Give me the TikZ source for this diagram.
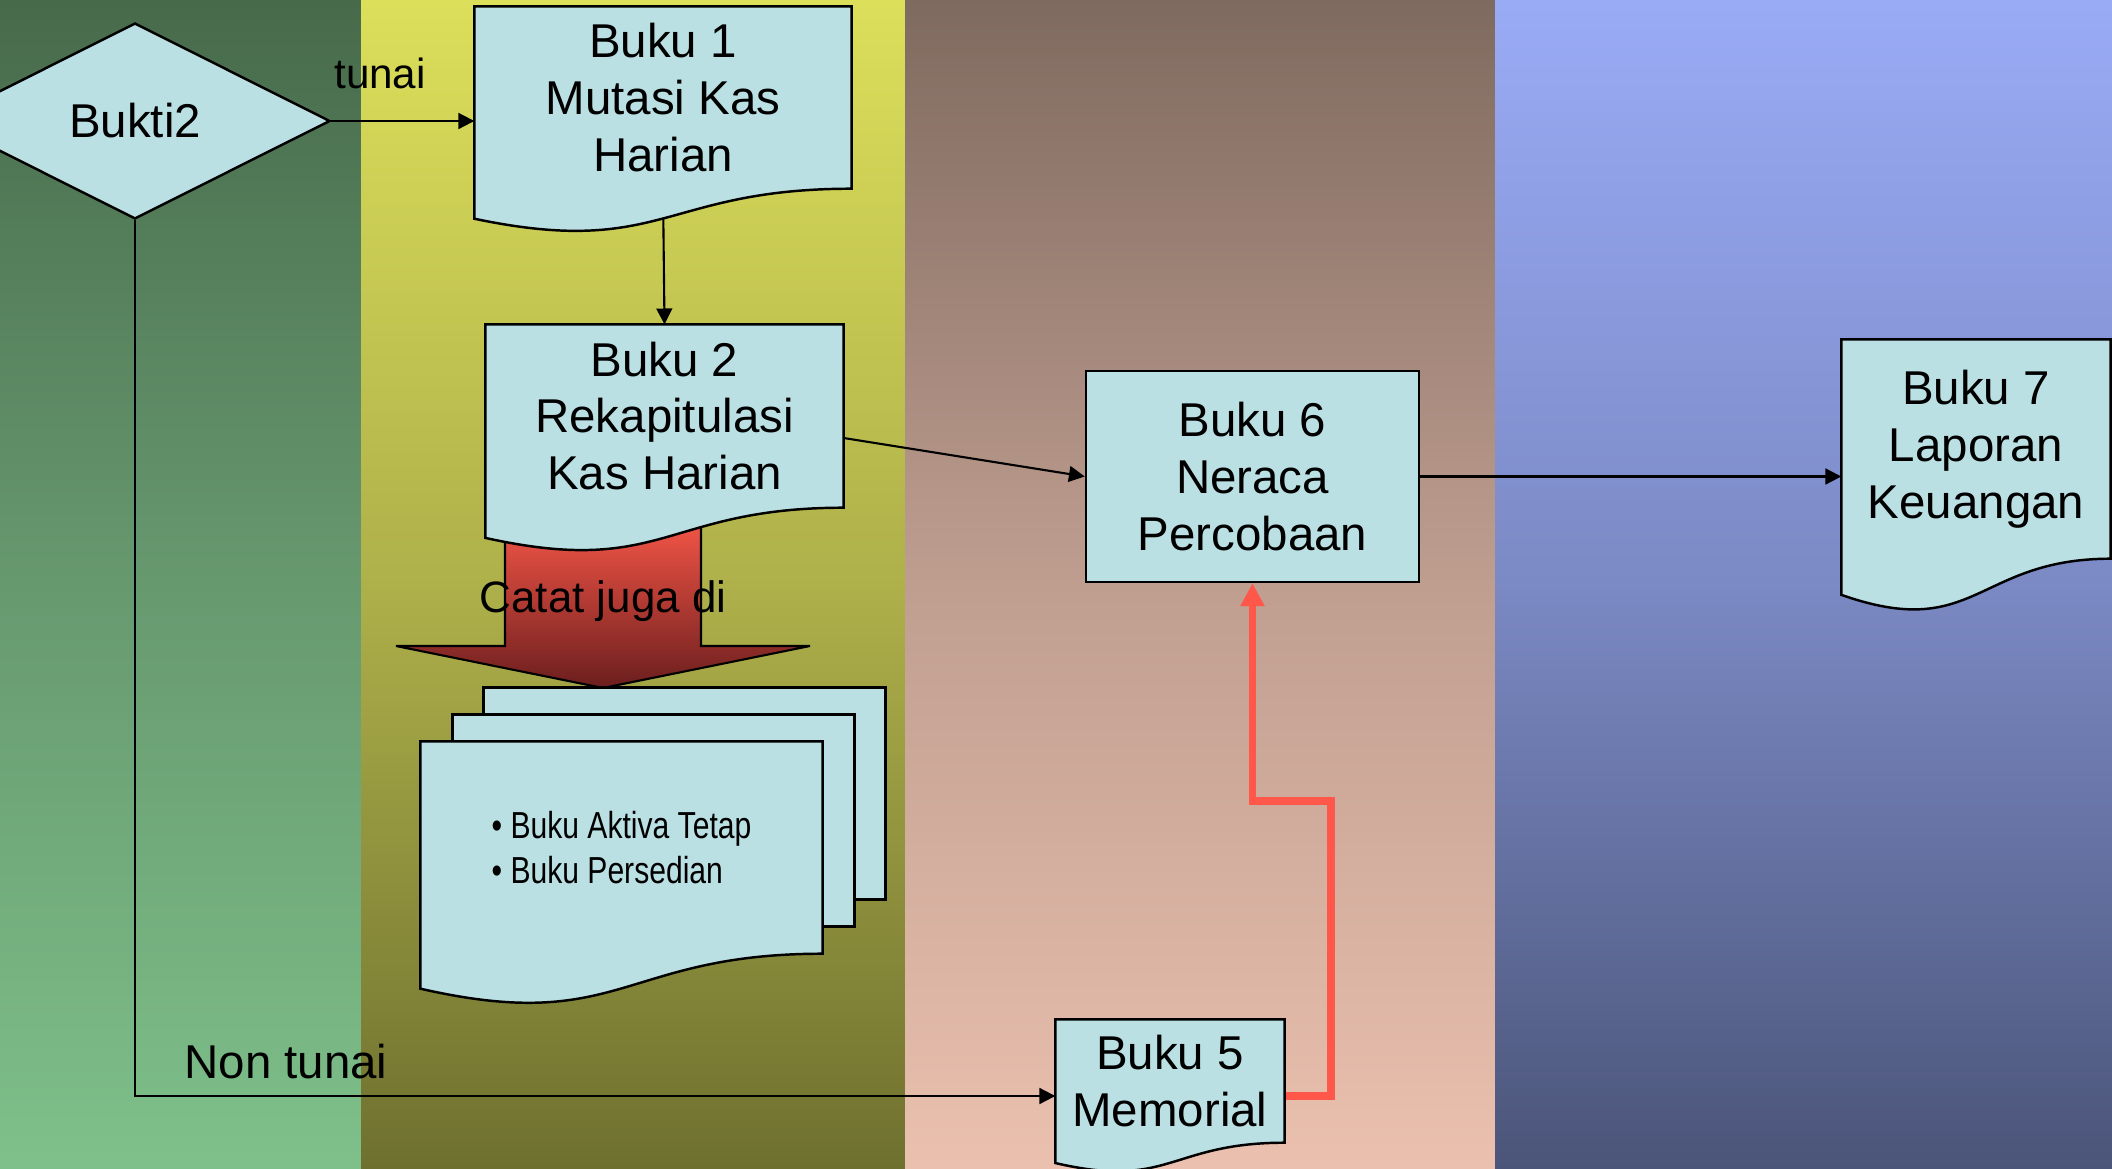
\documentclass[tikz,border=0pt]{standalone}
\usepackage{fontspec}
\setmainfont{Liberation Sans}
\newfontfamily\sempit[FakeStretch=0.8]{Liberation Sans}
\usetikzlibrary{shapes.geometric,arrows.meta,calc}

\pgfdeclarelayer{latar}
\pgfdeclarelayer{garis}
\pgfdeclarelayer{bentuk}
\pgfsetlayers{latar,garis,bentuk,main}

\definecolor{isi}{HTML}{BBE0E3}
\definecolor{hijauA}{HTML}{476A4B}
\definecolor{hijauB}{HTML}{67996F}
\definecolor{hijauC}{HTML}{7EC08A}
\definecolor{kuningA}{HTML}{DCDF5A}
\definecolor{kuningB}{HTML}{AEB04A}
\definecolor{kuningC}{HTML}{6E702F}
\definecolor{coklatA}{HTML}{7F6A5F}
\definecolor{coklatB}{HTML}{BF9E90}
\definecolor{coklatC}{HTML}{EBC0AE}
\definecolor{biruA}{HTML}{9AABF6}
\definecolor{biruB}{HTML}{7B89C4}
\definecolor{biruC}{HTML}{4B5579}
\definecolor{merah}{HTML}{FF584A}
\definecolor{merahA}{HTML}{FF5A4A}
\definecolor{merahB}{HTML}{6B1E1E}

% lembar dokumen dengan tepi bawah bergelombang
\newcommand{\kertas}[1]{%
  \begin{pgfonlayer}{bentuk}
    \draw[kotak] (#1.north west) -- (#1.north east) -- (#1.south east)
      .. controls (#1.south) and ($(#1.south)!-0.381!(#1.north)$)
      .. ($(#1.south west)!-0.1646!(#1.north west)$) -- cycle;
  \end{pgfonlayer}}

\begin{document}
\begin{tikzpicture}[
    kotak/.style={draw=black,line width=0.7pt,fill=isi},
    dok/.style={rectangle,inner sep=0pt,align=center,font=\fontsize{13.5}{16.2}\selectfont},
    panah/.style={line width=0.6pt,-{Triangle[length=4.5pt,width=4.5pt]}}]
    \useasboundingbox (0,0) rectangle (21.12,-11.69);

    \begin{pgfonlayer}{latar}
        \fill[top color=hijauA,bottom color=hijauC,middle color=hijauB] (0,0) rectangle (3.61,-11.69);
        \fill[top color=kuningA,bottom color=kuningC,middle color=kuningB] (3.61,0) rectangle (9.05,-11.69);
        \fill[top color=coklatA,bottom color=coklatC,middle color=coklatB] (9.05,0) rectangle (14.95,-11.69);
        \fill[top color=biruA,bottom color=biruC,middle color=biruB] (14.95,0) rectangle (21.12,-11.69);
    \end{pgfonlayer}

    \node[diamond,kotak,inner sep=0pt,minimum width=3.9cm,minimum height=1.96cm,font=\fontsize{13.5}{16.2}\selectfont] (bukti) at (1.35,-1.21) {Bukti2};

    \node[dok,minimum width=3.76cm,minimum height=1.81cm] (b1) at (6.63,-0.975) {Buku 1\\Mutasi Kas\\Harian};\kertas{b1}
    \node[dok,minimum width=3.57cm,minimum height=1.82cm] (b2) at (6.645,-4.16) {Buku 2\\Rekapitulasi\\Kas Harian};\kertas{b2}
    \node[dok,minimum width=2.28cm,minimum height=1.22cm] (b5) at (11.70,-10.81) {Buku 5\\Memorial};\kertas{b5}
    \node[dok,kotak,minimum width=3.33cm,minimum height=2.11cm] (b6) at (12.525,-4.765) {Buku 6\\Neraca\\Percobaan};
    \node[dok,minimum width=2.68cm,minimum height=2.18cm] (b7) at (19.76,-4.49) {Buku 7\\Laporan\\Keuangan};\kertas{b7}

    \node[dok,align=left,minimum width=4.01cm,minimum height=2.11cm,font=\sempit\fontsize{10.7}{12.8}\selectfont] (catat) at (6.215,-8.475) {\textbullet\ Buku Aktiva Tetap\\\textbullet\ Buku Persedian};
    \begin{pgfonlayer}{bentuk}
        \draw[kotak] ([shift={(0.63,0.54)}]catat.north west) rectangle ([shift={(0.63,0.54)}]catat.south east);
        \draw[kotak] ([shift={(0.32,0.27)}]catat.north west) rectangle ([shift={(0.32,0.27)}]catat.south east);
    \end{pgfonlayer}
    \kertas{catat}

    \node[font=\fontsize{12}{14}\selectfont,anchor=base] (tunai) at (3.80,-0.88) {tunai};
    \node[font=\fontsize{13.5}{16.2}\selectfont,anchor=base] (nontunai) at (2.86,-10.78) {Non tunai};
    \node[font=\fontsize{12.5}{15}\selectfont,anchor=base] (catatjuga) at (6.03,-6.12) {Catat juga di};

    \coordinate (belok) at (13.31,-8.01);

    \begin{pgfonlayer}{garis}
        \draw[line width=0.6pt,top color=merahA,bottom color=merahB] (5.05,-5.07) -- (5.05,-6.46) -- (3.96,-6.46) -- (6.03,-6.88) -- (8.10,-6.46) -- (7.01,-6.46) -- (7.01,-5.07) -- cycle;
        \draw[panah] (bukti.east) -- (bukti.east -| b1.west);
        \draw[panah] (b1.south) -- (b2.north);
        \draw[panah] ([yshift=-0.22cm]b2.east) -- (b6.west);
        \draw[panah] (b6.east) -- (b6.east -| b7.west);
        \draw[panah] (bukti.south) |- ([yshift=-0.15cm]b5.west);
        \draw[line width=2pt,merah,-{Triangle[length=6.5pt,width=6.5pt]}] ([yshift=-0.15cm]b5.east) -| (belok) -| (b6.south);
    \end{pgfonlayer}
\end{tikzpicture}
\end{document}
